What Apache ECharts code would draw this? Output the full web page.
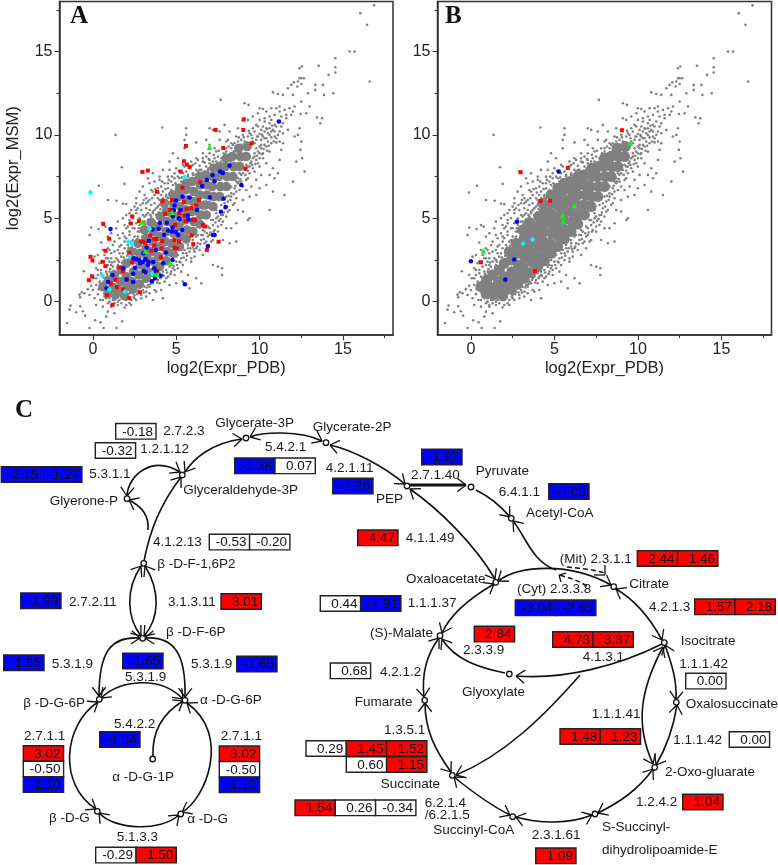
<!DOCTYPE html>
<html>
<head>
<meta charset="utf-8">
<script src="https://cdn.jsdelivr.net/npm/echarts@6/dist/echarts.min.js"></script>
<style>
html, body { margin: 0; padding: 0; background: #fff; }
#main { width: 778px; height: 865px; }
</style>
</head>
<body>
<div id="main"></div>
<script>
/** 坐标轴刻度 */
var majorTicks = [0, 5, 10, 15];
var minorTicks = [2.5, 7.5, 12.5, 17.5];

/** gray points */
var grayPoints = [
  [16.86,17.77],[16.04,17.3],[16.44,16.6],[16.6,13.2],[15.4,15.0],[15.7,15.0],[14.54,14.6],[14.54,14.06],[14.54,13.74],[14.14,13.6],
  [13.54,14.14],[12.4,14.0],[12.54,14.1],[14.42,12.5],[13.8,13.0],[13.34,13.0],[13.34,12.7],[13.86,12.4],[12.9,12.5],[12.5,13.4],
  [12.4,13.4],[12.66,13.4],[12.5,13.05],[12.3,13.2],[12.06,13.15],[11.9,13],[12.26,12.9],[11.7,12.8],[10.8,12.55],[11.1,12.45],
  [11.4,12.4],[12,12.4],[12.5,12],[12.1,11.7],[13,11.7],[12.8,11.3],[12.46,11.25],[13.44,11.05],[13.74,11],[13.64,10.7],
  [7.66,12.1],[9.1,11.9],[9.34,11.8],[10,11.6],[9.9,11.3],[10.2,11.55],[10.4,11.4],[10.7,11.6],[11,11.6],[11.2,11.7],
  [11.5,11.5],[11.8,11.6],[12,11.4],[11.6,11.2],[11.3,11.1],[10.9,11.2],[10.6,11.1],[10.3,11],[10,10.9],[9.6,11.1],
  [9.3,10.9],[9.1,11],[11.1,10.8],[11.4,10.7],[10.9,10.6],[10.6,10.7],[10.2,10.5],[9.9,10.5],[9.6,10.4],[11.7,10.3],
  [11.2,10.2],[10.9,10.2],[10.5,10.1],[10.2,9.9],[9.9,9.9],[11,9.8],[11.4,9.5],[12.1,9.9],[12.3,10],[12.4,10.4],
  [12.5,9.6],[12.45,9.1],[12.55,8.6],[12.7,7.8],[12.2,8.4],[12,7.2],[11.5,6.4],[10.8,6.6],[10.6,5.5],[11.2,8.5],
  [11.1,7.7],[10.8,8],[10.6,7.6],[10.9,7.4],[10.4,8.3],[10.2,8.6],[10.6,9],[10.3,9.4],[11.3,9.1],[10,8.9],
  [9.8,9.2],[9.4,10.1],[9,10],[8.7,10.4],[8.6,9.9],[8.2,10.2],[7.9,10.6],[7.6,10.2],[7.2,10.3],[7,10.4],
  [5.6,10.4],[5.6,10],[4.16,10.44],[5.5,9.7],[6.2,9.55],[6.8,9.7],[7,9.4],[7.6,9.7],[8,9.6],[8.3,9.5],
  [8.6,9.3],[8,9.2],[7.4,9],[7,8.9],[6.6,8.9],[6.2,8.6],[5.5,9.2],[4.8,8.9],[5.1,8.6],[4.6,8.4],
  [5.9,8.4],[5.4,8.2],[6.6,8.4],[4.6,7.9],[4.2,7.9],[3.6,7.7],[3.3,7.4],[3.7,7.2],[4,7.5],[4.9,7.7],
  [5.2,7.4],[3.4,7.1],[3,6.9],[2.8,6.6],[3.1,6.4],[2.6,6.2],[3.6,6.6],[4.1,6.9],[4.5,7.1],[2.6,5.9],
  [2.3,5.5],[2.6,5.5],[2,5.2],[2.2,4.9],[1.8,5],[1.5,4.8],[1.9,4.6],[1.4,4.4],[1.1,4.1],[1.5,4],
  [0.9,3.9],[0.5,3.55],[0.34,4.35],[0.6,4.6],[0.76,4.5],[-0.2,4],[-0.1,4.45],[-0.12,6.55],[0.36,6.95],[0.9,6.1],
  [1.42,6.05],[1.74,8.06],[1.9,7.06],[1.36,10],[1.8,5.87],[2,5.85],[2.9,7.8],[3.5,5.8],[3.2,5.9],[4,6.1],
  [0.9,3.2],[1.2,3.4],[0.6,3.1],[0.3,2.8],[0.1,2.7],[0.4,2.3],[0.2,2],[-0.1,1.6],[-0.54,1.82],[0.05,1.4],
  [0.3,1.6],[0.5,1.9],[0.8,2.6],[1.1,2.9],[-0.1,0.95],[-0.3,0.75],[-0.5,0.5],[-0.8,0.42],[-0.76,0.26],[-0.66,0.56],
  [-0.2,0.4],[0,0.7],[0.2,1],[0.1,0.2],[0.3,0.45],[0.45,0.1],[0.2,-0.2],[0.6,-0.3],[0.5,0.7],[0.8,0.2],
  [-1.54,-1.28],[-1.34,-0.24],[-1.4,-0.48],[-1,-0.64],[-0.6,-0.58],[-0.46,-0.84],[-0.2,-1.58],[0.14,-1.12],[0.46,-1.24],[0.64,-1.58],
  [1.42,-1.58],[1.76,-1.18],[-0.76,-0.28],[0.9,-0.6],[1.1,-0.3],[1.3,-0.7],[1.5,-0.2],[1.9,-0.35],[2.3,-0.2],[0.8,-0.9],
  [1,0],[1.3,0.1],[1.6,0.1],[2,0.1],[2.5,0.2],[2.9,0.4],[2.2,-0.1],[3.2,0.3],[3.6,0.1],[4.2,0.2],
  [4.1,0.7],[3.8,0.6],[3.4,0.9],[4.6,1],[5,1.1],[5.4,1.2],[5.8,0.8],[6.5,1.1],[6.2,1.4],[5.7,1.6],
  [5.3,1.8],[5.9,2.4],[7.2,2.2],[7.5,2.1],[7.75,2],[7.75,1.6],[4.9,1.6],[4.4,1.4],[4.8,2],[5.2,2.4],
  [5.6,2.9],[6.1,2.7],[6.6,2.8],[6.2,3.2],[6.9,3.2],[7.2,3.7],[8.6,3.6],[8.2,3.5],[7.8,3.7],[7.5,4.2],
  [7,4],[6.8,3.6],[6.5,3.7],[6,3.5],[8,4.4],[7.7,4.6],[8.3,4.4],[8.6,4.7],[9.4,5],[9.3,4.9],
  [9,5.4],[8.7,5.5],[8.5,5.9],[8.1,5.4],[7.5,5.1],[7.9,5.9],[9,6.1],[9.4,6.3],[9.8,6.4],[9.2,6.7],
  [9.5,6.9],[10,6.8],[10.4,7],[9.8,7.3],[9.3,7.4],[8.9,7.2],[8.6,6.6],[10.1,7.6],[9.7,7.8],[9.4,8.1],
  [9.9,8.3],[8.8,7.7],[7.9,8.3],[7.4,8.2],[7,8.3],[6.4,7.9],[6,7.7],[5.7,7.5],[8.2,8.6],[8.6,9],
  [9,9.3],[9.6,9.6],[10.1,9.4],[3.6,5.4],[3.2,5.2],[2.8,5],[2.5,4.4],[2.2,4.2],[2.8,4.2],[1.9,3.6],
  [1.6,3.3],[2.1,3],[1.8,2.9],[1.4,2.6],[1.1,2.2],[0.7,1.4],[1,1.8],[1.5,2.2],[2.3,0.6],[2.7,0.9],
  [3.1,1.3],[3.5,1.2],[3.9,1.3],[4.2,1.8],[4.6,2.4],[5,2.7],[5.3,3.1],[5.7,3.4],[6.2,3.9],[6.6,4.3],
  [7.2,4.6],[7.4,5.5],[7.8,5.2],[8.3,6.3],[8.2,6.8],[8.7,7.1],[5,6.4],[4.4,6.3],[4.2,5.7],[3.8,5.2],
  [5.6,7],[6.4,7.4],[6.9,7.9],[7.3,8.6],[8.7,8.1],[9.3,8.6],[9.7,8.7],[3,4.8],[3.4,4.9],[2.4,3.7],
  // upper edge of the cloud
  [0.2,1.4],[0.3,1.9],[0.5,1.7],[0.5,2.4],[0.7,2.1],[0.7,2.8],[0.9,2.2],[0.9,2.6],[1,3.1],[1.1,2.6],
  [1.2,2.1],[1.3,3.0],[1.3,3.6],[1.5,2.5],[1.5,3.1],[1.6,3.8],[1.7,2.7],[1.7,3.4],[1.8,4.1],[1.9,3.2],
  [2,3.8],[2,4.4],[2.1,3.4],[2.2,4],[2.2,4.7],[2.3,3.6],[2.4,4.4],[2.4,5],[2.5,3.9],[2.6,4.7],
  [2.6,5.3],[2.7,4.2],[2.8,4.9],[2.9,5.5],[2.9,4.4],[3,5.2],[3,5.9],[3.1,4.8],[3.2,5.6],[3.2,6.2],
  [3.3,4.9],[3.4,5.5],[3.4,6.1],[3.5,6.7],[3.6,5.3],[3.7,5.9],[3.7,6.4],[3.8,5.6],[3.9,6.2],[3.9,6.8],
  [4,5.8],[4,7.3],[4.2,6.2],[4.2,6.6],[4.3,7.1],[4.4,6.4],[4.5,6.8],[4.5,7.5],[4.6,6.5],[4.7,7.2],
  [4.8,7],[4.9,7.4],[5,7],[5,8],[5.1,7.5],[5.3,7.2],[5.4,7.7],[5.5,8.1],[5.7,7.6],[5.8,8],
  [6,7.6],[6,8.2],[6.2,7.9],[6.3,8.5],[6.5,7.9],[6.6,8.6],[6.8,8.1],[6.8,8.7],[7,8.5],[7.2,8.4],
  [7.3,9.2],[7.5,8.7],[7.7,8.6],[7.8,9.2],[8,9],[8.1,9.7],[8.3,9.2],[8.5,9.5],[8.7,9.6],[8.9,9.7],
  [9.1,9.6],[9.3,9.9],[9.5,10],[9.7,10.2],[9.8,10.6],[10.1,10.3],[10.4,10.4],[10.3,10.8],[10.7,10.9],[11,10.5],
  [11.3,10.5],[11.2,11.4],[11.6,11],[11.9,11.2],[0.4,1.2],[0.6,1.5],[0.8,1.8],[1,2.4],[1.3,2.4],[1.6,2.9],
  [1.9,3.9],[2.1,4.5],[2.3,3.2],[2.5,3.5],[2.7,3.9],[2.8,4.6],[3,4.5],[3.1,5.1],[3.3,5.3],[3.5,5.1],
  [3.7,5.5],[3.9,5.7],[4.1,6.4],[4.3,6],[4.5,6.2],[4.7,6.7],[4.9,6.6],[5.1,6.9],[5.3,6.9],[5.5,7.3],
  [5.8,7.3],[6.1,7.4],[6.3,7.8],[6.6,7.7],[6.9,7.8],[7.1,8.2],[7.4,8.4],[7.7,8.4],[8,8.8],[8.3,8.9],
  [8.6,9.1],[8.9,9.4],[9.2,9.2],[9.5,9.4],[9.8,9.7],[10.1,9.7],[10.4,9.8],[10.7,10.2],
  // lower edge of the cloud
  [0.6,0.1],[0.9,-0.1],[1.1,-0.2],[1.3,-0.1],[1.5,0],[1.7,-0.1],[1.8,0.2],[2,-0.2],[2.1,0.3],[2.3,0.1],
  [2.5,0.4],[2.6,0.1],[2.7,0.6],[2.9,0.2],[3,0.7],[3.2,0.6],[3.3,1],[3.4,0.5],[3.6,1.1],[3.7,0.7],
  [3.8,1.5],[4,1.1],[4.1,1.5],[4.3,1.2],[4.4,1.9],[4.5,1.5],[4.7,1.8],[4.7,2.2],[4.9,1.9],[5,2.4],
  [5.1,2],[5.3,2.6],[5.4,2.2],[5.5,3.1],[5.6,2.5],[5.8,3],[5.9,2.6],[6,3.3],[6.1,3],[6.3,3.5],
  [6.4,3.1],[6.5,4],[6.7,3.5],[6.7,4.2],[6.9,3.9],[7,4.4],[7.1,3.6],[7.2,4.9],[7.3,4.3],[7.4,5],
  [7.5,4.5],[7.7,5.2],[7.8,4.8],[7.9,5.6],[8,5.1],[8.1,6],[8.2,5.5],[8.3,6.5],[8.4,5.8],[8.5,6.8],
  [8.6,6.2],[8.7,7.4],[8.8,6.7],[8.9,7.6],[9,6.9],[9.1,7.9],[9.2,7.3],[9.3,8.1],[9.4,7.7],[9.5,8.4],
  [9.6,8],[9.7,8.9],[9.8,8.5],[9.9,9],[10,8.1],[10.1,9.2],[10.2,8.9],[10.3,9.8],[10.4,9.3],[10.5,9.6],
  [10.6,10],[10.7,9.5],[10.8,10.3],[10.9,9.9],[11.1,10],[11.2,9.6],[11.4,10.1],[0.7,0.3],[1,0.2],[1.2,0.1],
  [1.4,0.2],[1.7,0.3],[1.9,0.4],[2.2,0.5],[2.4,0.5],[2.8,0.8],[3.1,0.9],[3.4,1.3],[3.7,1.4],[4,1.7],
  [4.2,1.6],[4.6,2.1],[4.8,2.5],[5.1,2.8],[5.4,2.9],[5.7,3.2],[6,3.7],[6.3,4],[6.6,4],[6.9,4.5],
  [7.1,4.9],[7.4,5.3],[7.7,5.8],[8,6.3],[8.3,6.9],[8.6,7.2],[8.9,8],[9.2,8.2],[9.6,8.6],[10,9.3],
  // second pass, edge of the dense band
  [0.35,0.75],[0.45,1.05],[0.65,1.2],[0.75,0.55],[0.85,1.65],[1.05,1.95],[1.15,2.35],[1.25,1.85],[1.45,2.05],[1.55,2.4],
  [1.75,2.35],[1.85,2.65],[2.05,2.75],[2.15,3.25],[2.25,2.8],[2.35,3.35],[2.55,3.15],[2.65,3.75],[2.75,4.4],[2.95,3.9],
  [3.05,4.15],[3.15,4.65],[3.25,4.35],[3.35,4.6],[3.45,5.2],[3.55,4.95],[3.75,4.75],[3.85,5.05],[3.95,5.35],[4.05,5.55],
  [4.15,5.15],[4.25,5.45],[4.35,5.85],[4.55,5.95],[4.65,5.7],[4.75,6.25],[4.85,6.05],[4.95,6.35],[5.05,6.6],[5.15,6.15],
  [5.35,6.55],[5.45,6.85],[5.55,7.1],[5.65,6.75],[5.75,7],[5.85,6.85],[5.95,7.3],[6.05,7.1],[6.15,7.6],[6.25,7.2],
  [6.35,7.35],[6.55,7.45],[6.65,7.25],[6.75,7.7],[6.85,7.5],[6.95,8],[7.05,7.7],[7.15,7.9],[7.35,8.1],[7.45,7.85],
  [7.55,8.25],[7.65,8],[7.75,8.2],[7.85,8.5],[7.95,8.3],[8.05,8.45],[8.15,8.75],[8.25,8.4],[8.35,8.55],[8.45,9],
  [8.55,8.8],[8.65,9.2],[8.8,9],[8.95,9.15],[9.1,9.45],[9.25,9.55],[9.4,9.3],[9.55,9.8],[9.7,9.5],[9.85,9.9],
  [10,10.05],[10.15,10],[10.3,10.2],[10.45,10.35],[10.6,10.4],[10.75,10.55],[1.55,0.35],[1.95,0.15],[2.15,0.25],[2.45,0.3],
  [2.65,0.45],[2.85,0.55],[3.05,0.55],[3.25,0.85],[3.45,1.05],[3.65,1.3],[3.85,1.15],[4.05,1.4],[4.25,1.55],[4.45,1.75],
  [4.65,1.65],[4.85,2.15],[5.05,2.2],[5.25,2.35],[5.45,2.65],[5.65,2.75],[5.85,3.2],[6.05,3.15],[6.25,3.3],[6.45,3.45],
  [6.65,3.75],[6.85,4.1],[7.05,4.15],[7.25,4.2],[7.35,4.75],[7.55,4.85],[7.65,4.95],[7.85,5.35],[8.05,5.7],[8.15,6.35],
  [8.25,6.1],[8.45,6.45],[8.55,6.95],[8.75,7.2],[8.85,7.35],[9,7.7],[9.15,7.6],[9.3,7.85],[9.45,8.3],[9.55,8.2],
  [9.75,8.25],[9.85,8.75],[10,8.6],[10.15,8.85],[10.25,9.15],[10.45,9.05],[10.55,9.35],[10.7,9.85],[10.85,9.6],[11,9.55],
  [1.95,2.05],[2.25,1.55],[3,3.3],[3.4,2.7],[4.2,3.85],[4.6,3.3],[5.4,4.65],[5.8,5.2],[6.6,5.55],[7,6],
  [2.2,5.3],[2.5,5.7],[2.7,5.6],[2.85,5.8],[3.05,6.1],[3.3,6],[3.55,6.2],[3.75,6.75],[3.95,6.55],[4.15,7.2],
  [4.35,6.75],[4.55,7.3],[4.75,7.5],[4.95,7.1],[5.15,7.85],[5.35,7.45],[5.6,7.8],[5.9,8.1],[6.15,8.3],[6.4,8.15],
  [6.7,8.35],[6.95,8.55],[7.25,8.8],[7.55,9.05],[7.85,8.9],[8.15,9.3],[8.4,9.4],[8.75,9.85],[9.05,9.85],[9.35,10.25]
];

/** dense middle of the cloud, where single points merge */
var grayCore = [
  [0.6,0.9],[0.9,0.5],[0.95,1.3],[1.2,0.85],[1.35,0.4],[1.3,1.6],[1.6,0.65],[1.65,1.2],[1.7,1.9],[1.9,0.35],
  [2.05,0.9],[2,1.5],[2,2.3],[2.4,0.75],[2.35,1.2],[2.45,1.8],[2.4,2.5],[2.3,3],[2.8,1.05],[2.75,1.6],
  [2.85,2.2],[2.8,2.9],[2.7,3.5],[3.2,1.4],[3.15,2],[3.25,2.6],[3.2,3.2],[3.2,3.8],[3.1,4.3],[3.6,1.75],
  [3.65,2.4],[3.55,3],[3.6,3.6],[3.65,4.2],[3.5,4.75],[4,2.1],[3.95,2.7],[4.05,3.3],[4,3.9],[3.95,4.5],
  [4.05,5.1],[4.4,2.45],[4.45,3],[4.35,3.6],[4.4,4.2],[4.45,4.8],[4.4,5.4],[4.3,5.9],[4.8,2.9],[4.75,3.5],
  [4.85,4.1],[4.8,4.7],[4.75,5.3],[4.85,5.9],[4.8,6.4],[5.2,3.3],[5.25,3.9],[5.15,4.5],[5.2,5.1],[5.25,5.7],
  [5.15,6.3],[5.2,6.8],[5.6,3.75],[5.65,4.3],[5.55,4.9],[5.6,5.5],[5.65,6.1],[5.55,6.7],[5.6,7.1],[6,4.2],
  [6.05,4.8],[5.95,5.4],[6,6],[6.05,6.6],[5.95,7.2],[6.4,4.65],[6.45,5.2],[6.35,5.8],[6.4,6.4],[6.45,7],
  [6.4,7.5],[6.8,5.2],[6.75,5.8],[6.85,6.4],[6.8,7],[6.75,7.6],[7.2,5.7],[7.25,6.3],[7.15,6.9],[7.2,7.5],
  [7.25,8],[7.6,6.3],[7.65,6.9],[7.55,7.5],[7.6,8.1],[8,6.9],[8.05,7.5],[7.95,8.1],[8,8.6],[8.4,7.5],
  [8.45,8.1],[8.35,8.7],[8.8,8.1],[8.85,8.7],[8.75,9.2],[9.2,8.7],[9.25,9.3]
];

/** panel A marks */
var redA = [
  [9.04,10.92],[9.02,10.3],[7.36,10.3],[7.82,9.22],[9.52,9.5],[5.58,9.34],[5.46,8.42],[5.64,8.22],[5.8,8.08],[9.16,7.98],
  [5.26,7.8],[2.98,7.78],[3.3,7.86],[5.38,6.83],[6.44,7.16],[3.84,6.59],[4.18,6.03],[4.74,6.09],[5.46,5.99],[6.36,6.09],
  [6.2,5.77],[5.9,5.61],[5.62,5.55],[4.64,5.51],[4.34,5.27],[5.18,5.31],[5.5,5.15],[2.36,5.11],[2.28,4.69],[2.76,4.83],
  [5.56,4.83],[6,4.89],[6.12,4.89],[0.62,4.67],[4.94,4.61],[6.6,4.61],[6.72,4.51],[5.92,3.97],[3.44,3.97],[3.68,3.77],
  [3.8,3.75],[0.98,3.77],[2.88,3.61],[3.02,3.59],[4.16,3.63],[4.9,3.69],[5.16,3.61],[7.54,3.59],[3.14,3.49],[3.68,3.35],
  [6.02,3.45],[4.12,3.19],[4.9,3.23],[5.04,3.19],[3.5,3.05],[0.76,3.05],[2.2,2.91],[6.84,3.11],[-0.14,2.69],[-0.02,2.47],
  [0.6,2.39],[4.08,2.67],[2.34,2.35],[0.76,2.13],[1.6,2.05],[1.8,1.83],[3.86,1.85],[-0.04,1.51],[-0.24,1.29],[1.34,1.31],
  [2.02,1.35],[1.08,1.07],[1.44,0.87],[1.82,0.73],[2.82,0.57],[0.84,0.39],[2.18,0.21],[1.18,-0.19]
];
var blueA = [
  [11.16,10.8],[8.2,8.16],[7.64,7.8],[7.8,7.72],[8.9,7.0],[7.18,7.58],[6.84,7.3],[7.3,7.22],[6.56,6.93],[7.02,6.25],
  [7.84,6.17],[7.96,5.67],[7.68,5.39],[5.8,6.25],[5.38,6.3],[5,6.07],[4.9,5.77],[4.86,5.5],[5.26,5.49],[6.24,5.5],
  [5.7,5.17],[4.8,5.1],[5.16,5],[5.74,4.93],[5.2,4.93],[4.44,4.73],[4.02,4.71],[4.78,4.45],[3.94,4.37],[3.58,4.33],
  [4.52,4.27],[4.74,4.21],[4.98,4.17],[5.36,4.29],[5.12,4],[4.28,4],[1.06,4.35],[3.36,3.65],[7.2,4],[7.3,4],
  [6.9,3.33],[3.22,3.23],[3.78,3.09],[4.38,2.95],[3.04,2.91],[2.44,2.6],[2.6,2.55],[2.78,2.5],[4.78,2.5],[3.16,2.55],
  [3,2.38],[2.84,2.3],[3.34,2.38],[3.62,2.38],[4.22,2.3],[3.3,2.2],[2.52,2.03],[1.82,2],[3.68,2.0],[3.06,1.83],
  [3.16,1.76],[3.8,1.81],[2.42,1.67],[1.18,1.6],[4.06,1.55],[3.74,1.4],[2.02,1.32],[2.42,1.18],[0.92,1.18],[3.54,1.22],
  [0.82,0.8],[5.52,1.04]
];
var cyanA = [[-0.14,6.56],[5.5,7.48],[3.4,4.35],[2.12,3.59],[2.32,3.49],[2.2,2.71],[0.56,1.57],[3.56,1.67],[1,0.73],[1.92,0.59]];
var greenA = [[7,9.26],[2.96,4.78],[4.76,5.36],[3.14,3.03],[4.64,2.33],[3.84,1.65]];

/** panel B marks */
var redB = [[9.04,10.28],[5.8,8.02],[2.98,7.76],[4.18,6.03],[4.74,6.05],[0.6,2.36],[3.84,1.84]];
var blueB = [[5.26,7.8],[2.76,4.79],[2.6,2.53],[0,2.42],[2.06,1.32]];
var greenB = [[9.54,9.5],[6.2,5.77],[5.5,5.15],[5.54,4.81],[0.76,3.03]];
var cyanB = [[3.68,3.73],[3.14,3.47]];

/** 节点位置 */
var nodePos = [
  [246,438],[326,442.7],[182.3,475],[127,498.7],[143.7,563.3],[142.7,638.3],[99.3,699.3],[185,700.3],[152.7,759],[97.3,811.3],[180.7,814],
  [407,486],[471,487],[511.3,518.3],[495.7,582.3],[613.7,586.7],[664.3,642.7],[676.3,702.3],[654.7,767.3],[595,814],
  [512.7,816.7],[452.3,775.3],[424.7,700.3],[440,635.7],[509.3,674]
];

/** 通路曲线: x1,y1,cx1,cy1,cx2,cy2,x2,y2,起点箭头,终点箭头 */
var curves = [
  [185,472,194,458,212,443,242,439,1,1],
  [250,437,262,432,300,430,322,441,1,1],
  [330,445,352,450,382,465,405,484,1,1],
  [410,489,440,510,475,545,495,579,1,1],
  [476,490,490,497,500,505,510,517,0,1],
  [513,521,525,535,532,562,556,570,1,0],
  [498,581,520,565,570,562,611,585,1,1],
  [616,589,635,600,650,618,662,640,1,1],
  [665,645,672,665,677,680,676,700,1,1],
  [677,705,673,730,665,750,656,765,1,1],
  [653,769,638,790,620,802,598,813,1,1],
  [592,815,570,824,540,824,516,817,1,1],
  [510,815,490,805,470,790,454,777,1,1],
  [451,772,435,750,425,730,425,703,1,1],
  [424,697,421,670,430,650,439,638,1,1],
  [442,633,450,615,470,598,494,584,1,1],
  [144,561,150,530,160,505,181,477,0,1],
  [148,530,149,520,145,508,129,500,0,1],
  [127,496,128,475,152,455,180,472,1,1],
  [141,566,125,590,127,618,141,636,1,1],
  [145,566,160,590,160,618,144,636,1,1],
  [140,638,112,636,99,650,99,696,1,1],
  [145,638,175,636,186,655,185,697,1,1],
  [101,698,120,680,160,675,183,699,1,1],
  [98,702,63,725,58,785,96,809,1,1],
  [99,813,115,830,160,832,179,815,1,1],
  [182,812,205,800,232,735,187,703,1,1],
  [153,756,152,735,160,715,183,701,0,1],
  [516,676,565,680,620,665,662,644,1,0],
  [580,675,545,715,505,755,456,775,0,1],
  [663,647,640,690,635,725,653,764,1,1],
  [505,673,480,668,455,660,442,639,0,1]
];
var thickCurves = [[410,485,430,485,450,485,466,485,0,1]];
var dashedCurves = [
  [567,567,580,568,595,570,605,573,0,0],
  [587,586,577,580,570,578,559,575,0,0]
];
var dashedHeads = [[605,565,605,575],[605,575,594,575],[559,575,561,582],[559,575,566,573]];

/** 文字标注 */
var labels = [
  ['2.7.2.3',163.3,431.7],['1.2.1.12',140.3,449.3],['5.3.1.1',89.3,474.3],['Glycerate-3P',215.3,423.3],['Glycerate-2P',312.7,427.7],
  ['5.4.2.1',265,447.3],['4.2.1.11',325.7,468.7],['Glyceraldehyde-3P',183.3,490.7],['Glyerone-P',49.7,501.3],['4.1.2.13',153,542.7],
  ['β -D-F-1,6P2',157.3,564],['2.7.2.11',69,602],['3.1.3.11',168,602],['β -D-F-6P',166,632.7],['5.3.1.9',51.7,664],
  ['5.3.1.9',191,664],['5.3.1.9',125,677.3],['β -D-G-6P',23.3,703.3],['α -D-G-6P',200,700],['5.4.2.2',114,724.3],
  ['2.7.1.1',24,736.7],['2.7.1.1',220.7,736.7],['α -D-G-1P',112.3,777.7],['β -D-G',49,818.3],['α -D-G',187.3,819],
  ['5.1.3.3',116.7,837.3],['2.7.1.40',411,475],['Pyruvate',475.7,471.3],['6.4.1.1',498.7,492.3],['PEP',376,499],
  ['Acetyl-CoA',526,513],['4.1.1.49',405.7,538.3],['(Mit) 2.3.1.1',559.7,559],['Oxaloacetate',406,579],['Citrate',629.3,584.7],
  ['(Cyt) 2.3.3.8',517,589.3],['1.1.1.37',407.7,603.3],['4.2.1.3',649,607],['(S)-Malate',370,633.3],['Isocitrate',680.7,641.7],
  ['2.3.3.9',463,650.7],['4.1.3.1',582.7,657.3],['1.1.1.42',679.3,664],['4.2.1.2',380,672],['Glyoxylate',462,692],
  ['Fumarate',354.7,702.3],['Oxalosuccinate',685.7,704.7],['1.1.1.41',591.7,714],['1.3.5.1',384,730],['1.1.1.42',673.3,740.3],
  ['2-Oxo-gluarate',665,772],['Succinate',380.7,784],['6.2.1.4',424.7,803],['/6.2.1.5',424.7,815.3],['1.2.4.2',636,802.3],
  ['Succinyl-CoA',433.3,830.7],['S-Succinyl-',602,827],['2.3.1.61',531.7,835.3],['dihydrolipoamide-E',602,850.7]
];

/** 表达变化值 */
var cellValues = [
  '-0.18','-0.32','-2.15','-1.27','-1.38','0.07','-2.26','-0.53','-0.20','-1.99','3.01',
  '-1.65','-1.65','-1.65','-1.34','3.02','-0.50','-1.10','3.02','-0.50','-1.10','-0.29','1.50',
  '-1.87','-2.03','4.47','2.44','1.46','0.44','-1.91','-3.04','-2.65','1.57','2.18',
  '2.84','4.73','3.37','0.68','0.00','1.48','1.23','0.00','0.29','1.45','1.52','0.60','1.15',
  '1.54','0.26','-0.34','1.04','1.09'
];
var cellPos = [
  [115.7,423.5],[95.3,442.7],[1.3,466.7],[41.6,466.7],[234.7,458],[275,458],[332.7,478.3],[209.3,534.3],[249.6,534.3],[20.7,593],[221,593.7],
  [3.7,655],[122.7,653.3],[236.7,656.3],[99.7,731.7],[23.3,745.7],[23.3,761.2],[23.3,776.7],[219.3,746],[219.3,761.5],[219.3,777],[95.7,847.3],[136,847.3],
  [421.7,449.3],[548.7,483.7],[357.7,530],[637.3,550.7],[677.6,550.7],[320.3,595.7],[360.6,595.7],[515.3,600],[555.6,600],[694.7,599],[735,599],
  [474.3,626.3],[552.7,631.7],[593,631.7],[330.3,663],[685.7,673.3],[560,728.7],[600.3,728.7],[729.3,731.7],[306,740.7],[346.3,740.7],[386.6,740.7],[346.3,756.7],[386.6,756.7],
  [295,800],[335.3,800],[375.6,800],[682.7,794.3],[535.7,848]
];
var panelLetters = [['A',70,18],['B',445,18],['C',15,412]];

var myChart = echarts.init(document.getElementById('main'));
var textFont = 'Liberation Sans';
var grayColor = '#808080';
var cellW = 40.3, cellH = 15.6;

/**
 * 单元格颜色: 上调红色, 下调蓝色
 */
function cellColor(v) {
    if (v >= 1) return '#ff0000';
    if (v <= -1) return '#0000ff';
    return '#ffffff';
}

/**
 * 画一条贝塞尔曲线和箭头
 */
function renderCurve(lineWidth, dashed) {
    return function (params, api) {
        var p1 = api.coord([api.value(0), api.value(1)]);
        var c1 = api.coord([api.value(2), api.value(3)]);
        var c2 = api.coord([api.value(4), api.value(5)]);
        var p2 = api.coord([api.value(6), api.value(7)]);
        var style = {stroke: '#111', fill: null, lineWidth: lineWidth};
        if (dashed) style.lineDash = [5, 3];
        var children = [{
            type: 'bezierCurve',
            shape: {x1: p1[0], y1: p1[1], x2: p2[0], y2: p2[1], cpx1: c1[0], cpy1: c1[1], cpx2: c2[0], cpy2: c2[1]},
            style: style
        }];
        var addHead = function (tip, from) {
            var a = Math.atan2(tip[1] - from[1], tip[0] - from[0]);
            [-0.65, 0.65].forEach(function (d) {
                children.push({
                    type: 'line',
                    shape: {x1: tip[0], y1: tip[1], x2: tip[0] - 11 * Math.cos(a + d), y2: tip[1] - 11 * Math.sin(a + d)},
                    style: {stroke: '#111', lineWidth: 1.3}
                });
            });
        };
        if (api.value(8)) addHead(p1, c1);
        if (api.value(9)) addHead(p2, c2);
        return {type: 'group', children: children};
    };
}

function renderDashHead(params, api) {
    var a = api.coord([api.value(0), api.value(1)]);
    var b = api.coord([api.value(2), api.value(3)]);
    return {type: 'line', shape: {x1: a[0], y1: a[1], x2: b[0], y2: b[1]}, style: {stroke: '#111', lineWidth: 1.3}};
}

function renderLabel(params, api) {
    var p = api.coord([api.value(0), api.value(1)]);
    return {
        type: 'text',
        style: {
            x: p[0], y: p[1], text: labels[params.dataIndex][0],
            font: '13.5px "' + textFont + '"', fill: '#1a1a1a', align: 'left', verticalAlign: 'middle'
        }
    };
}

function renderCell(params, api) {
    var p = api.coord([api.value(0), api.value(1)]);
    var v = cellValues[params.dataIndex];
    return {
        type: 'group',
        children: [{
            type: 'rect',
            shape: {x: p[0], y: p[1], width: cellW, height: cellH},
            style: {fill: cellColor(parseFloat(v)), stroke: '#222', lineWidth: 1.4}
        }, {
            type: 'text',
            style: {
                x: p[0] + cellW - 3, y: p[1] + cellH / 2 + 0.5, text: v,
                font: '13.5px "' + textFont + '"', fill: '#111', align: 'right', verticalAlign: 'middle'
            }
        }]
    };
}

/**
 * 一个散点面板的坐标轴(主刻度和次刻度各一条)
 */
function panelAxes(gridIndex, dim, showName, name) {
    var side = dim === 'x' ? 'bottom' : 'left';
    var major = {
        type: 'value', gridIndex: gridIndex, position: side, min: -2, max: 18, splitLine: {show: false},
        axisLine: {show: true, onZero: false, lineStyle: {color: '#333', width: 1.5}},
        axisTick: {show: true, length: 5, customValues: majorTicks, lineStyle: {color: '#333', width: 1}},
        axisLabel: {show: true, customValues: majorTicks, color: '#222', fontSize: 16, fontFamily: textFont, margin: 7}
    };
    if (showName) {
        major.name = name;
        major.nameLocation = 'middle';
        major.nameGap = dim === 'x' ? 25 : 38;
        major.nameTextStyle = {color: '#222', fontSize: 16.5, fontFamily: textFont};
    }
    var minor = {
        type: 'value', gridIndex: gridIndex, position: side, min: -2, max: 18, splitLine: {show: false},
        axisLine: {show: false, onZero: false},
        axisTick: {show: true, length: 3, customValues: minorTicks, lineStyle: {color: '#333', width: 1}},
        axisLabel: {show: false}
    };
    return [major, minor];
}

function scatterSeries(data, axisIndex, symbol, size, color, z) {
    return {
        type: 'scatter', xAxisIndex: axisIndex, yAxisIndex: axisIndex, data: data, symbol: symbol,
        symbolSize: size, itemStyle: {color: color, opacity: 1}, z: z, silent: true
    };
}

function panelSeries(axisIndex, red, blue, cyan, green, coreSize) {
    return [
        scatterSeries(grayCore, axisIndex, 'circle', coreSize, grayColor, 2),
        scatterSeries(grayPoints, axisIndex, 'circle', 2.6, grayColor, 3),
        scatterSeries(red, axisIndex, 'rect', 4, '#ff0000', 4),
        scatterSeries(blue, axisIndex, 'circle', 4.6, '#0000ff', 5),
        scatterSeries(cyan, axisIndex, 'diamond', 5.5, '#00ffff', 6),
        scatterSeries(green, axisIndex, 'triangle', 5.5, '#00ff00', 6)
    ];
}

var xA = panelAxes(0, 'x', true, 'log2(Expr_PDB)');
var yA = panelAxes(0, 'y', true, 'log2(Expr_MSM)');
var xB = panelAxes(1, 'x', true, 'log2(Expr_PDB)');
var yB = panelAxes(1, 'y', false);

var diagramX = {type: 'value', gridIndex: 2, min: 0, max: 778, show: false};
var diagramY = {type: 'value', gridIndex: 2, min: 0, max: 865, inverse: true, show: false};

function diagramCustom(data, renderItem, z) {
    return {
        type: 'custom', xAxisIndex: 4, yAxisIndex: 4, data: data, renderItem: renderItem,
        z: z, silent: true, clip: false
    };
}

var series = []
    .concat(panelSeries(0, redA, blueA, cyanA, greenA, 9.5))
    .concat(panelSeries(2, redB, blueB, cyanB, greenB, 11))
    .concat([
        diagramCustom(curves, renderCurve(1.6, false), 10),
        diagramCustom(thickCurves, renderCurve(3, false), 10),
        diagramCustom(dashedCurves, renderCurve(1.5, true), 10),
        diagramCustom(dashedHeads, renderDashHead, 10),
        {
            type: 'scatter', xAxisIndex: 4, yAxisIndex: 4, data: nodePos, symbol: 'circle', symbolSize: 5.5,
            itemStyle: {color: '#fff', borderColor: '#111', borderWidth: 1.3, opacity: 1}, z: 11, silent: true
        },
        diagramCustom(labels.map(function (d) { return [d[1], d[2]]; }), renderLabel, 12),
        diagramCustom(cellPos, renderCell, 12)
    ]);

var option = {
    animation: false,
    backgroundColor: '#fff',
    grid: [
        {left: 59.5, top: 1.5, width: 333.5, height: 333.5, show: true, borderColor: '#333', borderWidth: 1.5, backgroundColor: '#fff'},
        {left: 437.5, top: 1.5, width: 334, height: 333.5, show: true, borderColor: '#333', borderWidth: 1.5, backgroundColor: '#fff'},
        {left: 0, top: 0, width: 778, height: 865}
    ],
    xAxis: [xA[0], xA[1], xB[0], xB[1], diagramX],
    yAxis: [yA[0], yA[1], yB[0], yB[1], diagramY],
    graphic: panelLetters.map(function (d) {
        return {
            type: 'text', left: d[1], top: d[2] - 14, silent: true,
            style: {text: d[0], font: 'bold 25px "Liberation Serif"', fill: '#111'}
        };
    }),
    series: series
};

myChart.setOption(option);
</script>
</body>
</html>
